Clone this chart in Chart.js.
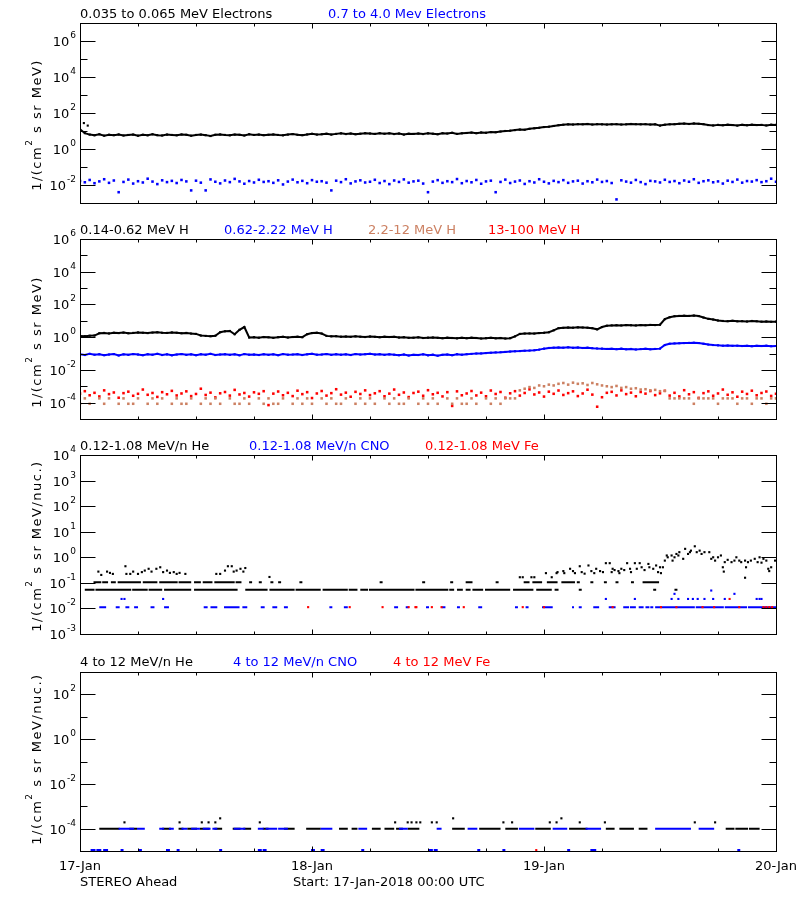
<!DOCTYPE html>
<html>
<head>
<meta charset="utf-8">
<script src="https://cdn.jsdelivr.net/npm/chart.js@4.4.1/dist/chart.umd.min.js"></script>
<style>
  html, body { margin: 0; padding: 0; background: #fff; }
  #wrap { position: relative; width: 800px; height: 900px; }
  #wrap canvas { position: absolute; left: 0; top: 0; }
</style>
</head>
<body>
<div id="wrap">
  <canvas id="p1" width="800" height="900"></canvas>
  <canvas id="p2" width="800" height="900"></canvas>
  <canvas id="p3" width="800" height="900"></canvas>
  <canvas id="p4" width="800" height="900"></canvas>
</div>
<script>
// ---- data (values are log10 of flux; one reading every 30 min) ----
const STEP = 0.5; // hours between readings, 0..72 h from 17-Jan 00:00
const dayLabels = ["17-Jan", "18-Jan", "19-Jan", "20-Jan"];
const dayHours = [0, 24, 48, 72];
const minorHours = [6, 12, 18, 30, 36, 42, 54, 60, 66];

// panel 1: electrons
const elecNames = ["0.035 to 0.065 MeV Electrons", "0.7 to 4.0 Mev Electrons"];
const elecLoLog = [
  1.10, 0.88, 0.80, 0.76, 0.82, 0.74, 0.79, 0.77, 0.81, 0.75,
  0.78, 0.80, 0.74, 0.79, 0.76, 0.82, 0.77, 0.75, 0.80, 0.78,
  0.76, 0.81, 0.79, 0.74, 0.78, 0.80, 0.77, 0.72, 0.79, 0.81,
  0.78, 0.76, 0.80, 0.79, 0.75, 0.82, 0.78, 0.80, 0.77, 0.79,
  0.81, 0.78, 0.76, 0.80, 0.83, 0.79, 0.77, 0.81, 0.84, 0.80,
  0.82, 0.85, 0.80, 0.84, 0.87, 0.83, 0.86, 0.82, 0.85, 0.88,
  0.86, 0.84, 0.88, 0.85, 0.87, 0.83, 0.86, 0.80, 0.85, 0.84,
  0.86, 0.83, 0.87, 0.85, 0.82, 0.88, 0.86, 0.90, 0.84, 0.87,
  0.89, 0.91, 0.88, 0.92, 0.90, 0.94, 0.93, 0.97, 1.00, 1.02,
  1.05, 1.08, 1.07, 1.12, 1.15, 1.18, 1.22, 1.24, 1.28, 1.32,
  1.35, 1.37, 1.36, 1.38, 1.37, 1.39, 1.36, 1.38, 1.37, 1.36,
  1.37, 1.38, 1.36, 1.37, 1.39, 1.38, 1.37, 1.38, 1.36, 1.37,
  1.30, 1.35, 1.37, 1.38, 1.40, 1.41, 1.39, 1.42, 1.40, 1.38,
  1.33, 1.31, 1.34, 1.32, 1.35, 1.33, 1.30, 1.34, 1.32, 1.35,
  1.33, 1.34, 1.31, 1.35, 1.34
];
const elecLoExtra = [[0.4, 1.44], [0.8, 1.30]];
const elecHiLog = [
  -1.78, -1.85, -1.72, -1.90, -1.80, -1.68, -1.88, -1.75, -2.40, -1.83,
  -1.70, -1.92, -1.79, -1.86, -1.65, -1.81, -1.95, -1.74, -1.84, -1.77,
  -1.89, -1.72, -1.80, -2.30, -1.76, -1.87, -2.30, -1.69, -1.82, -1.91,
  -1.75, -1.84, -1.66, -1.80, -1.93, -1.78, -1.86, -1.71, -1.83, -1.79,
  -1.88, -1.74, -1.97, -1.81, -1.70, -1.85, -1.77, -1.90, -1.73, -1.82,
  -1.79, -1.87, -2.30, -1.76, -1.84, -1.68, -1.91, -1.80, -1.74, -1.86,
  -1.82, -1.71, -1.89, -1.78, -1.95, -1.75, -1.83, -1.69, -1.87, -1.80,
  -1.76, -1.92, -2.40, -1.81, -1.73, -1.88, -1.79, -1.84, -1.67, -1.90,
  -1.78, -1.85, -1.72, -1.93, -1.80, -1.76, -2.40, -1.83, -1.70, -1.89,
  -1.81, -1.75, -1.94, -1.79, -1.86, -1.68, -1.82, -1.91, -1.77, -1.84,
  -1.73, -1.88, -1.80, -1.76, -1.92, -1.79, -1.85, -1.70, -1.83, -1.78,
  -1.89, -2.80, -1.74, -1.81, -1.87, -1.72, -1.84, -1.95, -1.77, -1.80,
  -1.86, -1.71, -1.83, -1.78, -1.90, -1.75, -1.82, -1.68, -1.88, -1.79,
  -1.74, -1.85, -1.80, -1.92, -1.76, -1.83, -1.70, -1.87, -1.78, -1.81,
  -1.73, -1.84, -1.79, -1.65, -1.82
];

// panel 2: protons
const protonNames = ["0.14-0.62 MeV H", "0.62-2.22 MeV H", "2.2-12 MeV H", "13-100 MeV H"];
const hLoLog = [
  0.08, 0.06, 0.09, 0.10, 0.24, 0.26, 0.23, 0.27, 0.25, 0.28,
  0.24, 0.26, 0.29, 0.27, 0.25, 0.28, 0.30, 0.27, 0.26, 0.29,
  0.27, 0.24, 0.26, 0.22, 0.20, 0.10, 0.08, 0.06, 0.09, 0.30,
  0.36, 0.38, 0.18, 0.45, 0.62, -0.02, 0.00, -0.03, 0.01, -0.01,
  -0.04, 0.00, 0.02, -0.02, 0.01, 0.03, 0.00, 0.18, 0.25, 0.27,
  0.22, 0.08, 0.05, 0.06, 0.03, 0.04, 0.02, 0.05, 0.03, 0.01,
  0.04, 0.02, 0.00, 0.03, 0.01, 0.02, -0.02, 0.00, -0.04, -0.03,
  -0.01, -0.05, -0.03, -0.02, -0.04, -0.06, -0.03, -0.05, -0.07, -0.04,
  -0.06, -0.03, -0.05, -0.08, -0.06, -0.04, -0.07, -0.05, -0.08, -0.06,
  0.05, 0.20, 0.22, 0.23, 0.22, 0.25, 0.27, 0.30, 0.42, 0.55,
  0.57, 0.59, 0.58, 0.60, 0.59, 0.58, 0.55, 0.48, 0.62, 0.70,
  0.72, 0.73, 0.72, 0.74, 0.73, 0.72, 0.74, 0.73, 0.75, 0.74,
  0.76, 1.10, 1.22, 1.28, 1.30, 1.31, 1.30, 1.32, 1.29, 1.20,
  1.12, 1.08, 1.02, 0.99, 0.98, 1.00, 0.97, 0.98, 0.96, 0.99,
  0.97, 0.95, 0.96, 0.94, 0.95
];
const hMidLog = [
  -1.05, -1.09, -1.02, -1.07, -1.04, -1.10, -1.06, -1.03, -1.12, -1.05,
  -1.08, -1.03, -1.06, -1.10, -1.04, -1.07, -1.02, -1.09, -1.05, -1.11,
  -1.06, -1.03, -1.08, -1.05, -1.10, -1.04, -1.07, -1.02, -1.09, -1.06,
  -1.04, -1.08, -1.05, -1.11, -1.03, -1.07, -1.06, -1.09, -1.04, -1.08,
  -1.05, -1.10, -1.03, -1.07, -1.06, -1.04, -1.09, -1.05, -1.02, -1.07,
  -1.06, -1.03, -1.08, -1.04, -1.07, -1.05, -1.09, -1.03, -1.06, -1.04,
  -1.02, -1.06, -1.04, -1.08, -1.05, -1.07, -1.10, -1.06, -1.12, -1.08,
  -1.09, -1.05, -1.11, -1.07, -1.13, -1.08, -1.06, -1.10, -1.04, -1.07,
  -1.04, -1.02, -1.00, -0.99, -0.97, -0.95, -0.93, -0.92, -0.90, -0.88,
  -0.86, -0.85, -0.83, -0.82, -0.80, -0.76, -0.70, -0.66, -0.64, -0.63,
  -0.64, -0.62, -0.65, -0.63, -0.66, -0.64, -0.67, -0.69, -0.70, -0.72,
  -0.71, -0.73, -0.70, -0.74, -0.72, -0.75, -0.73, -0.71, -0.74, -0.72,
  -0.70, -0.48, -0.40, -0.38, -0.37, -0.36, -0.35, -0.34, -0.36, -0.40,
  -0.45, -0.48, -0.50, -0.52, -0.51, -0.53, -0.52, -0.54, -0.53, -0.55,
  -0.53, -0.54, -0.52, -0.55, -0.54
];
const hHiLog = [
  -4.07, -3.74, -4.07, null, -3.74, -4.07, -3.74, null, -4.07, -3.74,
  -4.07, -4.07, -3.74, null, -4.07, -3.74, -4.07, -3.74, null, -4.07,
  -3.74, -4.07, -4.07, -3.74, null, -4.07, -3.74, -4.07, -3.74, -4.07,
  null, -3.74, -4.07, -4.07, -3.74, -4.07, null, -3.74, -4.07, -3.74,
  -4.07, -4.07, -3.74, null, -4.07, -3.74, -4.07, -3.74, -4.07, null,
  -3.74, -4.07, -3.74, -4.07, -4.07, -3.74, null, -4.07, -3.74, -4.07,
  -3.74, -4.07, null, -3.74, -4.07, -3.74, -4.07, -4.07, -3.74, null,
  -4.07, -3.74, -4.07, -3.74, -4.07, null, -3.74, -4.07, -3.74, -4.07,
  -4.07, -3.74, -4.07, null, -3.74, -4.07, -3.74, -4.07, -3.74, -3.74,
  -3.74, -3.25, -3.15, -3.05, -3.10, -2.95, -3.00, -2.90, -2.95, -2.85,
  -2.80, -2.90, -2.78, -2.85, -2.82, -2.92, -2.80, -2.88, -2.95, -3.00,
  -3.05, -2.98, -3.10, -3.05, -3.15, -3.12, -3.20, -3.18, -3.25, -3.22,
  -3.30, -3.28, -3.74, -3.74, -3.74, -3.74, -3.74, -4.07, -3.74, -3.74,
  -3.74, -3.74, -4.07, -3.74, -3.74, -3.74, -4.07, -3.74, -3.74, -4.07,
  -3.74, -3.74, -4.07, -3.74, -3.74
];
const hTopLog = [
  -3.45, -3.30, -3.55, -3.40, -3.62, -3.25, -3.48, -3.38, -3.70, -3.42,
  -3.33, -3.58, -3.46, -3.20, -3.52, -3.41, -3.65, -3.36, -3.49, -3.28,
  -3.56, -3.44, -3.31, -3.60, -3.47, -3.15, -3.53, -3.39, -3.68, -3.43,
  -3.35, -3.57, -3.22, -3.50, -3.41, -3.63, -3.37, -3.46, -3.30, -4.15,
  -3.45, -3.32, -3.55, -3.40, -3.60, -3.27, -3.48, -3.36, -3.72, -3.44,
  -3.29, -3.57, -3.42, -3.18, -3.51, -3.39, -3.64, -3.34, -3.47, -3.25,
  -3.54, -3.43, -3.30, -3.61, -3.45, -3.20, -3.52, -3.38, -3.66, -3.41,
  -3.33, -3.58, -3.24, -3.49, -3.40, -3.62, -3.36, -4.20, -3.31, -3.55,
  -3.44, -3.29, -3.56, -3.39, -3.61, -3.26, -3.47, -3.35, -3.70, -3.43,
  -3.30, -3.57, -3.41, -3.19, -3.50, -3.38, -3.63, -3.33, -3.46, -3.26,
  -3.53, -3.42, -3.31, -3.60, -3.44, -3.21, -3.51, -4.25, -3.67, -3.40,
  -3.34, -3.56, -3.25, -3.48, -3.39, -3.61, -3.35, -3.45, -3.29, -3.54,
  -3.43, -3.28, -3.57, -3.40, -3.62, -3.24, -3.49, -3.36, -3.71, -3.42,
  -3.31, -3.58, -3.44, -3.20, -3.52, -3.37, -3.64, -3.33, -3.47, -3.27,
  -3.55, -3.41, -3.32, -3.59, -3.46
];

// panel 3: 0.12-1.08 MeV/n ions (quantised count levels: runs [from h, to h] at a level, plus single points [h, log10])
const lowIonNames = ["0.12-1.08 MeV/n He", "0.12-1.08 MeV/n CNO", "0.12-1.08 MeV Fe"];
const heLowLevel = -1.27;
const heLowRuns = [[0.6,1.4],[1.7,3.3],[3.5,5.2],[5.5,6.9],[7.2,8.4],[8.8,11.4],[11.9,15.2],[15.3,16.2],
  [17.2,19.3],[19.7,22.1],[22.4,24.8],[25.2,27.6],[27.9,28.6],[29.1,29.7],[30,34.5],[34.8,38],[38.3,38.6],
  [39.1,39.5],[40,40.3],[40.7,41.6],[42,44.4],[44.9,46.8],[47.3,48.7],[49.2,49.4],[51.7,51.8],[59.4,59.5],[61.6,61.7]];
const heMidLevel = -0.98;
const heMidRuns = [[1.5,2.1],[2.4,2.8],[3.3,3.6],[4,6.2],[6.6,7.9],[8.3,10],[10.3,11.4],[11.9,12.4],[12.8,13.6],
  [14,15.9],[16.2,16.6],[17.6,17.7],[18.6,18.7],[19.8,19.9],[20.6,20.7],[22.8,22.9],[31.1,31.2],[35.5,35.6],
  [38.4,38.5],[40,40.5],[43.1,43.2],[46,46.4],[46.9,47.7],[48.4,49.3],[49.9,51.1],[51.5,51.6],[52.9,53],
  [54.3,54.4],[55.5,55.6],[57.1,57.2],[58.3,59.8]];
const heUpper = [
  [1.9,-0.56],[2.2,-0.69],[2.8,-0.56],[3.1,-0.61],[3.4,-0.65],[4.7,-0.35],[4.8,-0.65],[5.2,-0.65],[5.5,-0.56],
  [6.0,-0.65],[6.4,-0.58],[6.7,-0.52],[7.1,-0.45],[7.4,-0.56],[7.9,-0.45],[8.3,-0.39],[8.6,-0.58],[9.0,-0.52],
  [9.3,-0.61],[9.7,-0.58],[10.0,-0.65],[10.3,-0.61],[10.9,-0.65],[14.1,-0.65],[14.5,-0.65],[15.0,-0.52],
  [15.3,-0.35],[15.7,-0.35],[15.9,-0.56],[16.2,-0.52],[16.6,-0.45],[16.9,-0.56],[17.1,-0.42],[19.6,-0.77],
  [45.5,-0.78],[45.8,-0.78],[46.7,-0.78],[47.0,-0.78],[48.2,-0.62],[48.8,-0.78],[49.3,-0.62],[49.4,-0.58],
  [50.0,-0.54],[50.1,-0.62],[50.7,-0.45],[51.0,-0.54],[51.2,-0.62],[51.7,-0.35],[51.9,-0.58],[52.2,-0.64],
  [52.6,-0.32],[52.9,-0.54],[53.2,-0.62],[53.4,-0.45],[53.8,-0.54],[54.1,-0.58],[54.4,-0.23],[54.8,-0.23],
  [55.0,-0.58],[55.1,-0.45],[55.3,-0.50],[55.7,-0.54],[55.8,-0.62],[56.0,-0.45],[56.3,-0.50],[56.6,-0.23],
  [56.9,-0.45],[57.0,-0.58],[57.4,-0.23],[57.6,-0.45],[57.9,-0.23],[58.1,-0.39],[58.4,-0.50],[58.8,-0.26],
  [58.9,-0.39],[59.3,-0.45],[59.6,-0.32],[59.8,-0.58],[60.0,-0.39],[60.1,-0.62],[60.3,-0.39],
  [60.5,-0.13],[60.7,0.07],[60.8,0.00],[61.2,0.07],[61.3,-0.13],[61.5,0.00],[61.7,0.13],[61.9,0.07],
  [62.0,0.20],[62.4,-0.06],[62.6,0.33],[62.9,0.13],[63.1,0.20],[63.2,0.26],[63.6,0.43],[63.8,0.20],
  [64.1,0.26],[64.3,0.13],[64.6,0.20],[65.1,0.20],[65.3,-0.06],[65.5,0.00],[65.7,-0.13],[66.0,0.00],
  [66.3,0.07],[66.5,-0.39],[66.6,-0.56],[66.7,-0.19],[67.0,-0.10],[67.4,-0.19],[67.7,-0.13],[67.9,0.00],
  [68.2,-0.13],[68.4,-0.19],[68.8,-0.13],[68.8,-0.80],[68.9,-0.39],[69.1,-0.19],[69.4,-0.13],[69.8,-0.06],
  [70.1,-0.19],[70.3,0.00],[70.5,-0.21],[70.7,-0.06],[71.0,-0.13],[71.2,-0.45],[71.3,-0.54],[71.5,-0.39],
  [71.9,-0.13]
];
const cnoLevel3 = -1.95;
const cnoRuns3 = [[2.1,2.6],[3.8,4.0],[4.8,5.0],[5.7,5.9],[7.4,7.6],[8.8,9.1],[12.9,13.1],[13.6,14.1],[15.0,16.4],
  [16.9,17.2],[18.8,19.0],[20.0,20.3],[21.2,21.4],[25.9,26.0],[27.4,27.6],[32.6,32.8],[33.8,33.9],[35.9,36.0],
  [37.5,37.7],[39.1,39.2],[41.3,41.5],[45.1,45.2],[46.2,46.3],[47.9,48.8],[51.0,51.1],[51.7,51.8],[53.2,53.6],
  [54.8,55.3],[56.3,56.7],[57.0,57.4],[57.9,58.2],[58.6,58.8],[59.1,59.2],[59.6,60.0],[60.1,63.5],[63.8,66.5],
  [66.8,68.9],[69.2,70.5],[70.7,72]];
const cnoUpper3 = [[4.3,-1.63],[4.6,-1.63],[8.6,-1.63],[54.4,-1.63],[57.4,-1.63],[61.2,-1.63],[61.5,-1.43],
  [61.9,-1.63],[62.9,-1.63],[63.4,-1.63],[63.9,-1.63],[64.6,-1.63],[65.3,-1.30],[65.5,-1.63],[66.7,-1.63],
  [67.7,-1.43],[70.0,-1.63],[70.3,-1.63],[70.5,-1.63]];
const feHours3 = [23.6, 27.9, 31.3, 34.0, 34.7, 34.8, 36.4, 37.4, 39.7, 45.8, 48.0, 55.1, 60.1, 61.7, 64.4,
  65.6, 68.2, 70.7, 71.0, 71.3, 71.6];
const feUpper3 = [[67.2,-1.63]];

// panel 4: 4 to 12 MeV/n ions
const highIonNames = ["4 to 12 MeV/n He", "4 to 12 MeV/n CNO", "4 to 12 MeV Fe"];
const heLevel4 = -4.0;
const heRuns4 = [[2.1,3.4],[3.6,4.0],[5.2,5.8],[8.6,9.3],[10.3,10.6],[11.2,12.0],[12.5,13.3],[14.0,14.6],
  [15.9,16.5],[17.0,17.6],[19.0,19.4],[21.2,22.1],[23.5,24.8],[26.9,27.6],[28.2,28.6],[30.3,31.0],[31.6,32.4],
  [32.8,33.3],[34.0,35.0],[38.6,39.7],[41.4,43.4],[44.1,45.2],[47.2,48.6],[50.7,52.4],[54.5,55.2],[55.9,57.2],
  [57.9,58.6],[66.9,67.6],[67.9,69.0],[69.3,70.2]];
const heUpper4 = [[4.6,-3.72],[10.3,-3.72],[12.6,-3.72],[13.3,-3.72],[14.0,-3.72],[14.5,-3.54],[18.6,-3.72],
  [32.6,-3.72],[33.9,-3.72],[34.3,-3.72],[34.8,-3.72],[35.2,-3.72],[36.4,-3.72],[36.9,-3.72],[38.6,-3.54],
  [43.8,-3.72],[44.7,-3.72],[48.6,-3.72],[49.3,-3.72],[49.8,-3.54],[51.7,-3.72],[54.3,-3.72],[63.6,-3.72],
  [65.7,-3.72]];
const cnoLevel4 = -4.0;
const cnoRuns4 = [[4.1,4.6],[4.8,5.5],[6.0,6.6],[8.3,8.6],[9.3,9.6],[10.6,11.0],[11.6,12.3],[12.8,13.4],
  [13.8,14.1],[16.0,17.0],[18.5,18.9],[19.3,20.3],[20.6,21.4],[25.0,26.0],[28.9,29.6],[33.1,33.8],[37.0,37.3],
  [40.2,41.0],[45.5,46.9],[49.0,50.3],[52.4,53.8],[59.6,63.1],[64.1,65.5]];
const cnoBottomLevel4 = -4.96;
const cnoBottomRuns4 = [[1.2,1.5],[1.8,2.1],[2.5,2.8],[4.3,4.4],[6.2,6.3],[9.0,9.2],[10.1,10.2],[14.5,14.6],
  [18.5,18.7],[19.0,19.2],[24.0,24.2],[25.0,25.2],[29.2,29.3],[36.2,36.4],[36.7,36.9],[41.2,41.3],[43.8,43.9],
  [50.5,50.6],[52.9,53.0],[53.2,53.3],[68.1,68.2]];
const feHours4 = [47.2];
const feLevel4 = -4.96;

// ---- helpers ----
const BLUE = "#0000ff", RED = "#ff0000", BROWN = "rgb(204,128,98)", BLACK = "#000000";
const FONT = '"DejaVu Sans", sans-serif';

function series(logs) {
  return logs.map((v, i) => ({ x: i * STEP, y: v === null ? null : Math.pow(10, v) }));
}
function pairs(list) {
  return list.map(([h, v]) => ({ x: h, y: Math.pow(10, v) }));
}
function atLevel(hours, lv) {
  return hours.map((h) => ({ x: h, y: Math.pow(10, lv) }));
}
function runs(list, lv) {
  const out = [];
  list.forEach(([a, b]) => {
    out.push({ x: a, y: Math.pow(10, lv) }, { x: b, y: Math.pow(10, lv) }, { x: b, y: null });
  });
  return out;
}
function dots(data, color, r) {
  return { data, showLine: false, pointStyle: "rect", pointRadius: r || 1.5, pointBorderWidth: 0,
    backgroundColor: color, borderColor: color };
}
function trace(data, color, w) {
  return { data, showLine: true, borderWidth: w || 1.5, borderColor: color, pointStyle: "rect", pointRadius: 1.5,
    pointBorderWidth: 0, backgroundColor: color, spanGaps: false };
}
function dashes(data, color) {
  return { data, showLine: true, borderWidth: 2, borderColor: color, pointRadius: 0, borderCapStyle: "square",
    spanGaps: false };
}

function drawPow(ctx, exp, xRight, y) {
  ctx.font = "9px " + FONT;
  const ew = ctx.measureText(exp).width;
  ctx.font = "13px " + FONT;
  const bw = ctx.measureText("10").width;
  ctx.fillText("10", xRight - ew - bw - 1, y + 5);
  ctx.font = "9px " + FONT;
  ctx.fillText(exp, xRight - ew, y - 3);
}

function drawYTitle(ctx, unit, cx, cy) {
  const parts = [["1/(cm", false], ["2", true], [" s sr " + unit + ")", false]];
  ctx.save();
  ctx.translate(cx, cy);
  ctx.rotate(-Math.PI / 2);
  ctx.letterSpacing = "1.5px";
  let total = 0;
  parts.forEach(([t, sup]) => { ctx.font = (sup ? "9px " : "13px ") + FONT; total += ctx.measureText(t).width; });
  let u = -total / 2;
  parts.forEach(([t, sup]) => {
    ctx.font = (sup ? "9px " : "13px ") + FONT;
    ctx.fillText(t, u, sup ? -4 : 5);
    u += ctx.measureText(t).width;
  });
  ctx.restore();
}

const decor = {
  id: "decor",
  afterDraw(chart, args, o) {
    const ctx = chart.ctx, a = chart.chartArea, xs = chart.scales.x, ys = chart.scales.y;
    ctx.save();
    ctx.strokeStyle = BLACK;
    ctx.fillStyle = BLACK;
    ctx.lineWidth = 1;
    const L = Math.round(a.left) + 0.5, R = Math.round(a.right) + 0.5;
    const T = Math.round(a.top) + 0.5, B = Math.round(a.bottom) + 0.5;
    ctx.strokeRect(L, T, R - L, B - T);
    ctx.beginPath();
    const yTick = (e, len) => {
      const y = Math.round(ys.getPixelForValue(Math.pow(10, e))) + 0.5;
      ctx.moveTo(L, y); ctx.lineTo(L + len, y);
      ctx.moveTo(R, y); ctx.lineTo(R - len, y);
    };
    o.major.forEach((e) => yTick(e, 15));
    o.minor.forEach((e) => yTick(e, 7));
    const xTick = (h, len) => {
      const x = Math.round(xs.getPixelForValue(h)) + 0.5;
      ctx.moveTo(x, T); ctx.lineTo(x, T + len);
      ctx.moveTo(x, B); ctx.lineTo(x, B - len);
    };
    minorHours.forEach((h) => xTick(h, 3));
    dayHours.slice(1, -1).forEach((h) => xTick(h, 5));
    ctx.stroke();

    ctx.textAlign = "left";
    ctx.textBaseline = "alphabetic";
    o.major.forEach((e) => drawPow(ctx, String(e), 76, ys.getPixelForValue(Math.pow(10, e))));
    drawYTitle(ctx, o.unit, 36, o.titleY);

    ctx.font = "13px " + FONT;
    o.names.forEach((n, i) => {
      ctx.fillStyle = o.colors[i];
      ctx.fillText(n, o.nameX[i], o.nameY);
    });

    if (o.xLabels) {
      ctx.fillStyle = BLACK;
      ctx.textAlign = "center";
      dayLabels.forEach((d, i) => ctx.fillText(d, xs.getPixelForValue(dayHours[i]), 870));
      ctx.textAlign = "left";
      ctx.fillText("STEREO Ahead", 80, 886);
      ctx.fillText("Start: 17-Jan-2018 00:00 UTC", 293, 886);
    }
    ctx.restore();
  }
};

function makePanel(id, top, bottom, yMin, yMax, datasets, deco) {
  return new Chart(document.getElementById(id), {
    type: "scatter",
    data: { datasets },
    options: {
      responsive: false,
      animation: false,
      events: [],
      layout: { padding: { left: 80, right: 24, top: top, bottom: 900 - bottom } },
      scales: {
        x: { type: "linear", min: 0, max: 72, display: false },
        y: { type: "logarithmic", min: yMin, max: yMax, display: false }
      },
      elements: { line: { tension: 0 } },
      plugins: { legend: { display: false }, tooltip: { enabled: false }, decor: deco }
    },
    plugins: [decor]
  });
}

// panel 1
makePanel("p1", 23, 203, 1e-3, 1e7, [
  dots(series(elecHiLog), BLUE, 1.8),
  dots(pairs(elecLoExtra), BLACK, 1.5),
  trace(series(elecLoLog), BLACK, 2)
], { major: [6, 4, 2, 0, -2], minor: [5, 3, 1, -1], unit: "MeV", titleY: 125,
     names: elecNames, colors: [BLACK, BLUE], nameX: [80, 328], nameY: 18 });

// panel 2
makePanel("p2", 239, 419, 1e-5, 1e6, [
  dots(series(hHiLog), BROWN, 1.8),
  dots(series(hTopLog), RED, 1.8),
  trace(series(hMidLog), BLUE, 2),
  trace(series(hLoLog), BLACK, 2)
], { major: [6, 4, 2, 0, -2, -4], minor: [5, 3, 1, -1, -3], unit: "MeV", titleY: 342,
     names: protonNames, colors: [BLACK, BLUE, BROWN, RED], nameX: [80, 224, 368, 488], nameY: 234 });

// panel 3
makePanel("p3", 455, 634, 1e-3, 1e4, [
  dots(atLevel(feHours3, cnoLevel3).concat(pairs(feUpper3)), RED, 1.5),
  dashes(runs(cnoRuns3, cnoLevel3), BLUE),
  dots(pairs(cnoUpper3), BLUE, 1.5),
  dots(pairs(heUpper), BLACK, 1.5),
  dashes(runs(heMidRuns, heMidLevel), BLACK),
  dashes(runs(heLowRuns, heLowLevel), BLACK)
], { major: [4, 3, 2, 1, 0, -1, -2, -3], minor: [], unit: "MeV/nuc.", titleY: 546,
     names: lowIonNames, colors: [BLACK, BLUE, RED], nameX: [80, 249, 425], nameY: 450 });

// panel 4
makePanel("p4", 672, 851, 1e-5, 1e3, [
  dots(atLevel(feHours4, feLevel4), RED, 1.5),
  dashes(runs(cnoBottomRuns4, cnoBottomLevel4), BLUE),
  dashes(runs(cnoRuns4, cnoLevel4), BLUE),
  dots(pairs(heUpper4), BLACK, 1.5),
  dashes(runs(heRuns4, heLevel4), BLACK)
], { major: [2, 0, -2, -4], minor: [1, -1, -3], unit: "MeV/nuc.", titleY: 759,
     names: highIonNames, colors: [BLACK, BLUE, RED], nameX: [80, 233, 393], nameY: 666, xLabels: true });
</script>
</body>
</html>
